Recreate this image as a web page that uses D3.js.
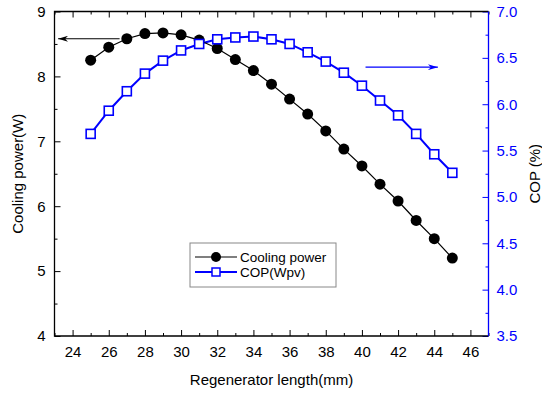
<!DOCTYPE html>
<html>
<head>
<meta charset="utf-8">
<script src="https://cdn.jsdelivr.net/npm/d3@7"></script>
<style>
  body { margin: 0; background: #fff; }
  text { font-family: "Liberation Sans", Arial, sans-serif; }
</style>
</head>
<body>
<div id="chart"></div>
<script>
'use strict';

const w = 542;
const h = 394;

// data
const lengths = [25, 26, 27, 28, 29, 30, 31, 32, 33, 34, 35, 36, 37, 38, 39, 40, 41, 42, 43, 44, 45];
const coolingPower = [8.25, 8.45, 8.58, 8.66, 8.67, 8.64, 8.56, 8.43, 8.26, 8.09, 7.88, 7.65, 7.42, 7.16, 6.88, 6.62, 6.34, 6.08, 5.78, 5.50, 5.20];
const cop = [5.68, 5.93, 6.14, 6.33, 6.47, 6.58, 6.65, 6.70, 6.72, 6.73, 6.70, 6.65, 6.56, 6.46, 6.34, 6.20, 6.04, 5.88, 5.68, 5.46, 5.26];
const xTicks = [24, 26, 28, 30, 32, 34, 36, 38, 40, 42, 44, 46];
const leftTicks = [4, 5, 6, 7, 8, 9];
const rightTicks = [3.5, 4.0, 4.5, 5.0, 5.5, 6.0, 6.5, 7.0];
const seriesNames = ["Cooling power", "COP(Wpv)"];

const blue = "#0000ff";
const margin = {top: 11.5, right: 53.5, bottom: 58, left: 54.5};

const svg = d3.select("#chart").append("svg").
attr("width", w).
attr("height", h);

const x = d3.scaleLinear().domain([23, 47]).range([margin.left, w - margin.right]);
const yL = d3.scaleLinear().domain([4, 9]).range([h - margin.bottom, margin.top]);
const yR = d3.scaleLinear().domain([3.5, 7]).range([h - margin.bottom, margin.top]);

const x0 = margin.left, x1 = w - margin.right, y0 = h - margin.bottom, y1 = margin.top;

//minor tick values
const xMinor = d3.range(23, 48, 1).filter(v => xTicks.indexOf(v) < 0);
const lMinor = d3.range(4.5, 9, 1);
const rMinor = d3.range(3.75, 7, 0.5);

function tickAxis(axis, color) {
  return g => {
    g.call(axis);
    g.select(".domain").remove();
    g.selectAll("line").attr("stroke", color).attr("stroke-width", 1);
    g.selectAll("text").attr("fill", color).style("font-size", "15px");
  };
}

// bottom axis, ticks pointing in
svg.append("g").attr("transform", `translate(0,${y0})`).
call(tickAxis(d3.axisBottom(x).tickValues(xTicks).tickSizeInner(-6).tickSizeOuter(0).tickPadding(10), "#000"));
svg.append("g").attr("transform", `translate(0,${y0})`).
call(tickAxis(d3.axisBottom(x).tickValues(xMinor).tickSizeInner(-3).tickSizeOuter(0).tickFormat(""), "#000"));

// top mirror ticks
svg.append("g").attr("transform", `translate(0,${y1})`).
call(tickAxis(d3.axisTop(x).tickValues(xTicks).tickSizeInner(-6).tickSizeOuter(0).tickFormat(""), "#000"));
svg.append("g").attr("transform", `translate(0,${y1})`).
call(tickAxis(d3.axisTop(x).tickValues(xMinor).tickSizeInner(-3).tickSizeOuter(0).tickFormat(""), "#000"));

// left axis
svg.append("g").attr("transform", `translate(${x0},0)`).
call(tickAxis(d3.axisLeft(yL).tickValues(leftTicks).tickSizeInner(-6).tickSizeOuter(0).tickPadding(9).tickFormat(d3.format("d")), "#000"));
svg.append("g").attr("transform", `translate(${x0},0)`).
call(tickAxis(d3.axisLeft(yL).tickValues(lMinor).tickSizeInner(-3).tickSizeOuter(0).tickFormat(""), "#000"));

// right axis (blue)
svg.append("g").attr("transform", `translate(${x1},0)`).
call(tickAxis(d3.axisRight(yR).tickValues(rightTicks).tickSizeInner(-6).tickSizeOuter(0).tickPadding(8).tickFormat(d3.format(".1f")), blue));
svg.append("g").attr("transform", `translate(${x1},0)`).
call(tickAxis(d3.axisRight(yR).tickValues(rMinor).tickSizeInner(-3).tickSizeOuter(0).tickFormat(""), blue));

// frame
svg.append("path").attr("d", `M${x1},${y0}H${x0}V${y1}H${x1}`).attr("fill", "none").attr("stroke", "#000").attr("stroke-width", 1.3);
svg.append("line").attr("x1", x1).attr("x2", x1).attr("y1", y1).attr("y2", y0).attr("stroke", blue).attr("stroke-width", 1.3);

// axis titles
svg.append("text").attr("x", (x0 + x1) / 2).attr("y", 385).attr("text-anchor", "middle").
style("font-size", "15px").text("Regenerator length(mm)");
svg.append("text").attr("transform", `translate(23,${(y0 + y1) / 2}) rotate(-90)`).attr("text-anchor", "middle").
style("font-size", "15px").text("Cooling power(W)");
svg.append("text").attr("transform", `translate(540,${(y0 + y1) / 2}) rotate(-90)`).attr("text-anchor", "middle").
style("font-size", "15px").text("COP (%)");

// series
const coolLine = d3.line().x((d, i) => x(lengths[i])).y(d => yL(d));
const copLine = d3.line().x((d, i) => x(lengths[i])).y(d => yR(d));

svg.append("path").datum(cop).attr("d", copLine).attr("fill", "none").attr("stroke", blue).attr("stroke-width", 2);
svg.append("path").datum(coolingPower).attr("d", coolLine).attr("fill", "none").attr("stroke", "#000").attr("stroke-width", 1.2);

svg.selectAll("circle.cp").data(coolingPower).enter().append("circle").
attr("class", "cp").
attr("cx", (d, i) => x(lengths[i])).
attr("cy", d => yL(d)).
attr("r", 5.5).
attr("fill", "#000");

svg.selectAll("rect.cop").data(cop).enter().append("rect").
attr("class", "cop").
attr("x", (d, i) => x(lengths[i]) - 4.5).
attr("y", d => yR(d) - 4.5).
attr("width", 9).attr("height", 9).
attr("fill", "#fff").attr("stroke", blue).attr("stroke-width", 1.6);

// arrows pointing at axes
const defs = svg.append("defs");
[["hBlack", "#000"], ["hBlue", blue]].forEach(([id, c]) => {
  defs.append("marker").attr("id", id).attr("viewBox", "0 0 10 6").attr("refX", 10).attr("refY", 3).
  attr("markerWidth", 10).attr("markerHeight", 6).attr("markerUnits", "userSpaceOnUse").attr("orient", "auto").
  append("path").attr("d", "M0,0L10,3L0,6L3,3Z").attr("fill", c);
});
svg.append("line").attr("x1", x(26.6)).attr("x2", x(23.2)).attr("y1", yL(8.58)).attr("y2", yL(8.58)).
attr("stroke", "#000").attr("stroke-width", 1.2).attr("marker-end", "url(#hBlack)");
svg.append("line").attr("x1", x(40.2)).attr("x2", x(44.2)).attr("y1", yR(6.4)).attr("y2", yR(6.4)).
attr("stroke", blue).attr("stroke-width", 1.2).attr("marker-end", "url(#hBlue)");

// legend
const lg = svg.append("g").attr("transform", "translate(190,243)");
lg.append("rect").attr("width", 146).attr("height", 44).attr("fill", "#fff").attr("stroke", "#888").attr("stroke-width", 1);
const item = lg.selectAll("g").data(seriesNames).enter().append("g").
attr("transform", (d, i) => `translate(0,${14 + i * 15})`);
item.append("line").attr("x1", 5).attr("x2", 47).attr("stroke", (d, i) => i ? blue : "#000").attr("stroke-width", (d, i) => i ? 2 : 1.2);
item.filter((d, i) => i === 0).append("circle").attr("cx", 26).attr("r", 5).attr("fill", "#000");
item.filter((d, i) => i === 1).append("rect").attr("x", 22).attr("y", -4).attr("width", 8).attr("height", 8).
attr("fill", "#fff").attr("stroke", blue).attr("stroke-width", 1.5);
item.append("text").attr("x", 50).attr("y", 5).style("font-size", "13.5px").text(d => d);
</script>
</body>
</html>
